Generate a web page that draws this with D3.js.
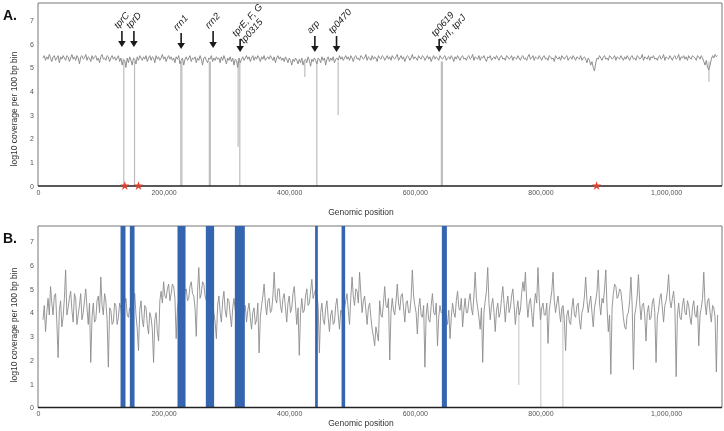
<!DOCTYPE html>
<html>
<head>
<meta charset="utf-8">
<script src="https://cdn.jsdelivr.net/npm/d3@7"></script>
<style>
  body { margin: 0; background: #fff; }
  svg { display: block; font-family: "Liberation Sans", Arial, sans-serif; will-change: transform; }
</style>
</head>
<body>
<svg id="chart" width="724" height="431"></svg>
<script>
// Bins: first bin centre and spacing (bp)
const binStart = 8000;
const binStep = 2000;

const xTicks = [0, 200000, 400000, 600000, 800000, 1000000];
const yTicks = [0, 1, 2, 3, 4, 5, 6, 7];

// Panel A: log10 coverage per bin
const coverageA = [
  5.4,5.5,5.3,5.45,5.35,5.55,5.4,5.25,5.45,5.5,5.3,5.4,5.5,5.2,5.45,5.35,5.5,5.4,5.3,5.5,
  5.45,5.25,5.4,5.55,5.35,5.45,5.3,5.5,5.4,5.15,5.45,5.5,5.35,5.4,5.55,5.3,5.45,5.4,5.25,5.5,
  5.35,5.45,5.5,5.3,5.4,5.2,5.45,5.55,5.35,5.4,5.3,5.5,5.45,5.25,5.4,5.5,5.35,5.45,5.3,5.4,
  5.5,5.25,5.4,5.1,5.35,5.3,5.0,5.4,5.2,5.45,5.3,5.1,5.4,5.35,5.15,5.45,5.3,5.5,5.4,5.3,
  5.45,5.35,5.5,5.25,5.4,5.5,5.3,5.45,5.4,5.2,5.5,5.35,5.45,5.3,5.4,5.55,5.35,5.45,5.25,5.4,
  5.5,5.35,5.45,5.3,5.4,5.2,5.45,5.35,5.5,5.15,5.3,5.4,5.1,5.35,5.45,5.3,5.4,5.5,5.25,5.4,
  5.35,5.45,5.2,5.4,5.3,5.5,5.35,5.1,5.4,5.45,5.3,5.2,5.4,5.35,5.5,5.25,5.4,5.3,5.45,5.35,
  5.4,5.2,5.45,5.3,5.5,5.35,5.15,5.4,5.3,5.45,5.25,5.4,5.1,5.35,5.3,5.0,5.4,5.2,5.35,5.45,
  5.3,5.4,5.5,5.35,5.45,5.25,5.4,5.5,5.3,5.45,5.35,5.5,5.4,5.25,5.45,5.35,5.5,5.3,5.4,5.45,
  5.35,5.5,5.4,5.3,5.45,5.2,5.4,5.5,5.35,5.45,5.3,5.4,5.25,5.45,5.35,5.2,5.4,5.3,5.1,5.35,
  5.25,5.4,5.3,5.15,5.35,5.2,5.4,5.1,5.3,5.35,5.2,5.45,5.3,5.05,5.35,5.25,5.4,5.3,5.15,5.4,
  5.35,5.2,5.45,5.3,5.4,5.1,5.35,5.45,5.25,5.4,5.3,5.45,5.2,5.35,5.4,5.3,5.5,5.35,5.45,5.3,
  5.4,5.5,5.35,5.45,5.3,5.5,5.4,5.25,5.45,5.5,5.35,5.4,5.3,5.5,5.45,5.35,5.4,5.55,5.3,5.45,
  5.4,5.3,5.5,5.35,5.45,5.4,5.25,5.5,5.4,5.35,5.5,5.45,5.3,5.4,5.5,5.35,5.45,5.3,5.5,5.4,
  5.35,5.45,5.55,5.3,5.4,5.5,5.35,5.45,5.25,5.4,5.5,5.45,5.3,5.4,5.55,5.35,5.45,5.4,5.3,5.5,
  5.4,5.35,5.5,5.45,5.3,5.4,5.5,5.35,5.45,5.25,5.4,5.5,5.35,5.45,5.4,5.3,5.5,5.4,5.35,5.45,
  5.5,5.3,5.4,5.45,5.35,5.5,5.4,5.25,5.45,5.35,5.5,5.4,5.3,5.45,5.5,5.35,5.4,5.3,5.45,5.5,
  5.35,5.4,5.55,5.3,5.45,5.4,5.35,5.5,5.3,5.45,5.4,5.5,5.35,5.25,5.45,5.4,5.5,5.3,5.4,5.45,
  5.35,5.5,5.4,5.3,5.45,5.5,5.35,5.4,5.3,5.5,5.45,5.35,5.4,5.5,5.3,5.45,5.4,5.35,5.5,5.4,
  5.3,5.45,5.5,5.35,5.4,5.3,5.45,5.55,5.35,5.4,5.5,5.3,5.45,5.4,5.35,5.5,5.4,5.3,5.45,5.5,
  5.35,5.4,5.3,5.5,5.45,5.35,5.4,5.25,5.5,5.4,5.35,5.45,5.3,5.5,5.4,5.35,5.45,5.5,5.3,5.4,
  5.45,5.35,5.5,5.4,5.3,5.45,5.4,5.35,5.5,5.3,5.4,5.45,5.35,5.2,5.4,5.3,5.1,5.25,5.0,4.85,
  5.2,5.4,5.35,5.5,5.4,5.3,5.45,5.5,5.35,5.4,5.3,5.5,5.45,5.35,5.4,5.5,5.3,5.45,5.4,5.35,
  5.5,5.4,5.3,5.45,5.35,5.5,5.4,5.3,5.45,5.5,5.35,5.4,5.3,5.5,5.45,5.35,5.4,5.55,5.3,5.45,
  5.4,5.35,5.5,5.3,5.45,5.4,5.5,5.35,5.4,5.3,5.45,5.5,5.35,5.4,5.55,5.3,5.45,5.4,5.35,5.5,
  5.4,5.3,5.45,5.5,5.35,5.4,5.55,5.3,5.45,5.4,5.5,5.35,5.45,5.3,5.5,5.4,5.35,5.5,5.45,5.4,
  5.3,5.5,5.45,5.35,5.5,5.4,5.25,5.1,5.3,5.0,4.9,5.1,5.35,5.5,5.4,5.55,5.45,5.5
];

// Panel A: narrow coverage drops (position bp, lowest value)
const dipPosA = [136600, 153700, 227400, 229000, 272800, 274400, 318600, 321300, 424800, 443900, 477900, 642200, 643800, 1068200];
const dipMinA = [0, 0, 0, 0, 0, 0, 1.66, 0, 4.6, 0, 3.0, 0, 0, 4.4];

// Panel A: red markers on the axis
const starPos = [138200, 160000, 889300];

// Panel A: annotated loci
const geneNames = [["tprC"], ["tprD"], ["rrn1"], ["rrn2"], ["tprE, F, G", "tp0315"], ["arp"], ["tp0470"], ["tp0619", "tprI, tprJ"]];
const genePos = [133600, 152700, 227900, 278800, 321800, 440800, 475300, 638700];

// Panel B: log10 coverage per bin
const coverageB = [
  3.7,4.3,3.2,4.0,4.6,3.9,5.1,4.4,3.9,4.7,4.8,3.6,2.1,4.1,4.5,3.4,3.8,4.6,5.8,3.9,
  4.2,4.6,4.9,4.1,3.6,4.8,4.6,3.5,3.9,4.3,4.8,3.7,4.0,4.5,5.0,4.2,3.5,4.4,1.9,3.8,
  4.4,3.6,3.7,4.5,4.7,4.0,5.5,4.3,3.9,4.8,4.5,3.7,1.7,4.2,4.1,3.5,3.6,4.4,4.3,3.5,
  3.8,4.4,4.2,3.7,4.0,4.4,4.6,3.9,3.8,4.2,4.1,3.6,4.3,4.8,3.9,3.3,2.4,4.1,4.5,3.7,
  3.4,4.3,4.2,3.5,3.1,4.0,3.8,3.3,1.9,3.7,4.0,3.2,2.8,4.5,4.9,4.4,5.3,4.7,4.6,5.0,
  5.2,4.5,4.8,5.2,5.1,4.6,2.9,4.2,4.5,4.0,4.3,4.7,4.4,4.9,5.0,4.5,4.6,5.1,5.3,4.8,
  4.7,4.2,3.0,4.9,5.9,4.6,4.8,5.3,5.2,4.7,4.5,4.2,4.3,4.0,4.1,4.5,4.0,3.6,2.9,4.3,
  4.7,4.0,3.6,4.5,4.9,4.1,3.8,4.6,4.5,3.9,3.4,4.2,4.6,4.1,4.2,4.0,4.1,4.4,4.3,4.0,
  4.0,4.3,3.6,4.1,4.4,3.8,3.3,4.0,4.2,3.5,3.7,4.4,2.3,3.8,4.3,4.7,5.2,4.4,3.9,4.5,
  4.6,4.0,4.1,4.7,5.7,4.6,4.4,5.0,5.0,4.3,4.0,4.6,4.8,4.2,3.6,4.4,4.7,4.0,4.2,4.8,
  5.1,4.3,3.5,4.2,2.2,4.0,4.6,4.0,4.1,4.7,5.0,4.3,4.4,4.9,5.4,4.6,4.8,5.0,4.7,4.3,
  2.3,4.0,4.4,3.7,3.5,4.2,4.5,3.8,3.2,3.9,4.1,3.5,3.6,4.3,4.6,3.9,3.3,4.1,4.0,3.6,
  4.2,4.5,4.8,4.1,3.5,4.6,5.5,4.7,4.3,5.0,4.9,4.4,5.7,4.8,4.0,4.5,4.7,4.1,3.5,4.2,
  4.4,3.8,3.3,3.0,2.6,3.4,3.1,2.8,4.5,3.9,3.8,4.4,5.1,4.3,4.2,4.6,2.0,4.0,4.6,4.1,
  3.9,4.5,5.2,4.4,4.1,4.7,4.8,4.2,3.6,4.4,4.5,4.0,4.0,4.6,5.8,4.7,4.3,4.0,3.1,4.2,
  4.6,3.9,3.8,4.3,1.7,3.9,4.4,3.7,3.6,4.3,4.8,4.0,3.9,4.4,2.6,3.8,4.3,4.0,4.0,4.2,
  4.2,3.8,3.5,4.1,2.9,3.8,4.4,4.0,3.8,4.5,4.9,4.2,4.1,4.6,3.4,4.1,4.6,4.0,4.0,4.5,
  4.8,4.2,3.9,4.7,5.7,4.6,4.2,3.8,3.3,4.2,1.9,4.0,4.5,4.9,5.9,4.4,3.7,4.3,4.6,4.0,
  3.2,4.1,4.4,3.8,4.0,4.6,5.1,4.4,3.6,4.3,4.7,4.0,4.2,4.7,5.0,4.3,3.5,4.1,4.5,3.9,
  4.1,4.8,5.3,4.9,5.7,4.5,3.8,4.4,4.6,4.0,3.4,4.3,4.8,4.4,5.9,4.6,3.7,4.2,4.4,3.9,
  3.9,4.4,2.7,4.1,4.5,4.9,5.7,4.5,4.0,4.4,4.7,4.1,3.6,4.2,4.3,3.7,2.4,3.9,4.1,3.6,
  3.5,4.2,4.6,3.9,3.8,4.3,4.4,3.7,3.3,4.0,4.2,4.7,5.5,4.5,4.0,4.4,4.7,4.0,3.4,4.2,
  4.5,4.9,5.8,4.4,3.9,4.6,4.4,5.0,5.8,4.2,3.2,3.9,1.4,4.2,4.8,5.2,5.1,4.6,4.7,5.0,
  4.9,4.4,3.8,3.4,3.3,3.9,4.0,4.5,5.5,4.3,1.6,3.9,4.2,4.7,5.6,4.4,3.7,4.3,4.4,3.9,
  2.8,4.0,4.3,3.7,3.8,4.4,4.6,4.0,1.9,3.8,4.1,4.6,4.8,4.2,3.6,4.3,4.5,4.9,5.6,4.5,
  4.2,4.6,4.9,4.2,1.3,3.9,4.4,3.8,3.7,4.3,4.6,4.0,3.9,4.5,4.3,3.8,3.5,4.2,4.5,3.9,
  3.8,4.3,2.6,3.9,4.2,4.6,5.7,4.4,3.9,4.5,4.6,4.0,3.6,4.3,4.2,3.8,1.5,3.9
];

// Panel B: isolated deep drops
const dropPosB = [765600, 800600, 835700];
const dropMinB = [0.95, 0, 0];

// Panel B: captured regions (blue bands)
const bandStart = [131400, 146200, 222100, 267200, 313400, 441200, 483300, 643000];
const bandEnd   = [139300, 153700, 234900, 280400, 329300, 445500, 489000, 651000];

const svg = d3.select("#chart");
const fmt = d3.format(",");
const binPos = (i) => binStart + i * binStep;

const x = d3.scaleLinear().domain([0, 1089000]).range([38, 722]);

// arrow geometry per annotation (top of shaft, arrow tip)
const arrowTop = [31, 31, 33, 31, 39, 36, 36, 39];
const arrowTip = [47, 47, 49, 48, 52, 52, 52, 52];

function drawFrame(y, top, bottom, letter, labelY, axisTitleY) {
  const g = svg.append("g");

  g.append("text").attr("x", 3).attr("y", top + 17)
    .attr("font-size", 14).attr("font-weight", "bold").attr("fill", "#111").text(letter);

  g.append("line").attr("x1", 38).attr("x2", 722).attr("y1", top).attr("y2", top)
    .attr("stroke", "#777").attr("stroke-width", 1);
  g.append("line").attr("x1", 38).attr("x2", 38).attr("y1", top).attr("y2", bottom)
    .attr("stroke", "#777").attr("stroke-width", 1);
  g.append("line").attr("x1", 722).attr("x2", 722).attr("y1", top).attr("y2", bottom)
    .attr("stroke", "#777").attr("stroke-width", 1);

  // y tick labels
  g.append("g").attr("transform", `translate(38,0)`)
    .call(d3.axisLeft(y).tickValues(yTicks).tickSize(0).tickPadding(4))
    .call((s) => s.select(".domain").remove())
    .selectAll("text").attr("font-size", 7).attr("fill", "#555")
    .attr("font-family", "Liberation Sans, Arial, sans-serif");

  // x tick labels
  g.append("g").attr("transform", `translate(0,${bottom})`)
    .call(d3.axisBottom(x).tickValues(xTicks).tickFormat(fmt).tickSize(0).tickPadding(4))
    .call((s) => s.select(".domain").remove())
    .selectAll("text").attr("font-size", 7).attr("fill", "#555")
    .attr("font-family", "Liberation Sans, Arial, sans-serif");

  g.append("text")
    .attr("transform", `translate(17,${labelY}) rotate(-90)`)
    .attr("text-anchor", "middle").attr("font-size", 8.5).attr("fill", "#333")
    .text("log10 coverage per 100 bp bin");

  g.append("text").attr("x", 361).attr("y", axisTitleY)
    .attr("text-anchor", "middle").attr("font-size", 8.5).attr("fill", "#333")
    .text("Genomic position");

  return g;
}

// ---------- Panel A ----------
const yA = d3.scaleLinear().domain([0, 7.72]).range([186, 3]);
drawFrame(yA, 3, 186, "A.", 109, 215);

const lineA = d3.line().x((d, i) => x(binPos(i))).y((d) => yA(d));

svg.append("g").selectAll("line").data(dipPosA).enter().append("line")
  .attr("x1", (d) => x(d)).attr("x2", (d) => x(d))
  .attr("y1", yA(5.25)).attr("y2", (d, i) => yA(dipMinA[i]))
  .attr("stroke", "#bdbdbd").attr("stroke-width", 1.2);

svg.append("path").datum(coverageA)
  .attr("fill", "none").attr("stroke", "#8e8e8e").attr("stroke-width", 1)
  .attr("d", lineA);

svg.append("line").attr("x1", 38).attr("x2", 722).attr("y1", 186).attr("y2", 186)
  .attr("stroke", "#222").attr("stroke-width", 1.3);

svg.append("g").selectAll("path").data(starPos).enter().append("path")
  .attr("transform", (d) => `translate(${x(d)},186)`)
  .attr("d", d3.symbol(d3.symbolStar, 26))
  .attr("fill", "#e0402e");

// annotations
const ann = svg.append("g");
genePos.forEach((p, i) => {
  const ax = x(p);
  ann.append("line").attr("x1", ax).attr("x2", ax)
    .attr("y1", arrowTop[i]).attr("y2", arrowTip[i] - 5)
    .attr("stroke", "#1a1a1a").attr("stroke-width", 1.6);
  ann.append("path")
    .attr("d", `M${ax - 3.8},${arrowTip[i] - 6}L${ax + 3.8},${arrowTip[i] - 6}L${ax},${arrowTip[i]}Z`)
    .attr("fill", "#1a1a1a");
  const t = ann.append("text")
    .attr("transform", `translate(${ax - 4},${arrowTop[i] - 2}) rotate(-48)`)
    .attr("font-size", 9.5).attr("font-style", "italic").attr("fill", "#1a1a1a");
  geneNames[i].forEach((s, k) => {
    t.append("tspan").attr("x", 0).attr("dy", k === 0 ? 0 : "1.1em").text(s);
  });
});

// ---------- Panel B ----------
const yB = d3.scaleLinear().domain([0, 7.65]).range([407.5, 226]);
drawFrame(yB, 226, 407.5, "B.", 325, 426);

const lineB = d3.line().x((d, i) => x(binPos(i))).y((d) => yB(d));

svg.append("g").selectAll("line").data(dropPosB).enter().append("line")
  .attr("x1", (d) => x(d)).attr("x2", (d) => x(d))
  .attr("y1", yB(4.2)).attr("y2", (d, i) => yB(dropMinB[i]))
  .attr("stroke", "#c4c4c4").attr("stroke-width", 1);

svg.append("path").datum(coverageB)
  .attr("fill", "none").attr("stroke", "#8c8c8c").attr("stroke-width", 0.9)
  .attr("d", lineB);

svg.append("g").selectAll("rect").data(bandStart).enter().append("rect")
  .attr("x", (d) => x(d))
  .attr("width", (d, i) => x(bandEnd[i]) - x(d))
  .attr("y", 226).attr("height", 407.5 - 226)
  .attr("fill", "#3565b0");

svg.append("line").attr("x1", 38).attr("x2", 722).attr("y1", 407.5).attr("y2", 407.5)
  .attr("stroke", "#222").attr("stroke-width", 1.3);
</script>
</body>
</html>
